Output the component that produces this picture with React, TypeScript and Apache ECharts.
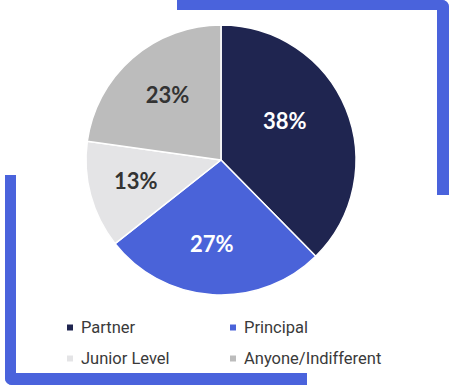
import React, { useEffect, useRef } from "react";
import * as echarts from "echarts";

const categories = ["Partner", "Principal", "Junior Level", "Anyone/Indifferent"];
const values = [38, 27, 13, 23];
const labels = ["38%", "27%", "13%", "23%"];

const sliceColors = ["#1f2550", "#4a63d9", "#e4e4e6", "#bcbcbc"];
const labelColors = ["#ffffff", "#ffffff", "#333333", "#333333"];
const labelOffsets = [[-13, -8], [-4, 1], [-5, -1], [1, -3]];
const BRACKET = "#4a63dc";

export default function App() {
  const ref = useRef<HTMLDivElement>(null);
  useEffect(() => {
    document.body.style.margin = "0";
    const chart = echarts.init(ref.current!, null, { renderer: "svg" });
    const pieData = categories.map((name, i) => ({
      name,
      value: values[i],
      itemStyle: { color: sliceColors[i] },
    }));
    const labelData = categories.map((name, i) => ({
      name,
      value: values[i],
      label: {
        formatter: labels[i],
        color: labelColors[i],
        offset: labelOffsets[i],
      },
    }));
    const legendText = { fontFamily: "Roboto", fontSize: 16.5, color: "#3a3a3a", lineHeight: 16, padding: [0, 0, 0, 2] };
    chart.setOption({
      animation: false,
      color: sliceColors,
      graphic: [
        { type: "rect", shape: { x: 177, y: 0, width: 272, height: 10, r: [0, 7, 0, 0] }, style: { fill: BRACKET }, z: 0 },
        { type: "rect", shape: { x: 437, y: 0, width: 12, height: 195, r: [0, 7, 0, 0] }, style: { fill: BRACKET }, z: 0 },
        { type: "rect", shape: { x: 5, y: 175, width: 11, height: 210, r: [0, 0, 0, 7] }, style: { fill: BRACKET }, z: 0 },
        { type: "rect", shape: { x: 5, y: 373, width: 302, height: 12, r: [0, 0, 0, 7] }, style: { fill: BRACKET }, z: 0 },
      ],
      legend: [
        {
          data: [categories[0], categories[2]],
          orient: "vertical",
          left: 65,
          top: 319,
          padding: 0,
          itemGap: 14,
          icon: "rect",
          itemWidth: 8,
          itemHeight: 8,
          selectedMode: false,
          textStyle: legendText,
        },
        {
          data: [categories[1], categories[3]],
          orient: "vertical",
          left: 228,
          top: 319,
          padding: 0,
          itemGap: 14,
          icon: "rect",
          itemWidth: 8,
          itemHeight: 8,
          selectedMode: false,
          textStyle: legendText,
        },
      ],
      series: [
        {
          type: "pie",
          center: [221, 160],
          radius: [0, 135],
          startAngle: 90,
          clockwise: true,
          label: { show: false },
          labelLine: { show: false },
          itemStyle: { borderColor: "#ffffff", borderWidth: 1.5 },
          emphasis: { disabled: true },
          data: pieData,
        },
        {
          type: "pie",
          center: [221, 160],
          radius: [25, 135],
          startAngle: 90,
          clockwise: true,
          silent: true,
          legendHoverLink: false,
          itemStyle: { color: "rgba(0,0,0,0)", borderWidth: 0 },
          label: {
            show: true,
            position: "inside",
            fontFamily: "Lato",
            fontWeight: "bold",
            fontSize: 22,
          },
          labelLine: { show: false },
          emphasis: { disabled: true },
          data: labelData,
        },
      ],
    });
    return () => chart.dispose();
  }, []);
  return <div ref={ref} style={{ width: 450, height: 386 }} />;
}
